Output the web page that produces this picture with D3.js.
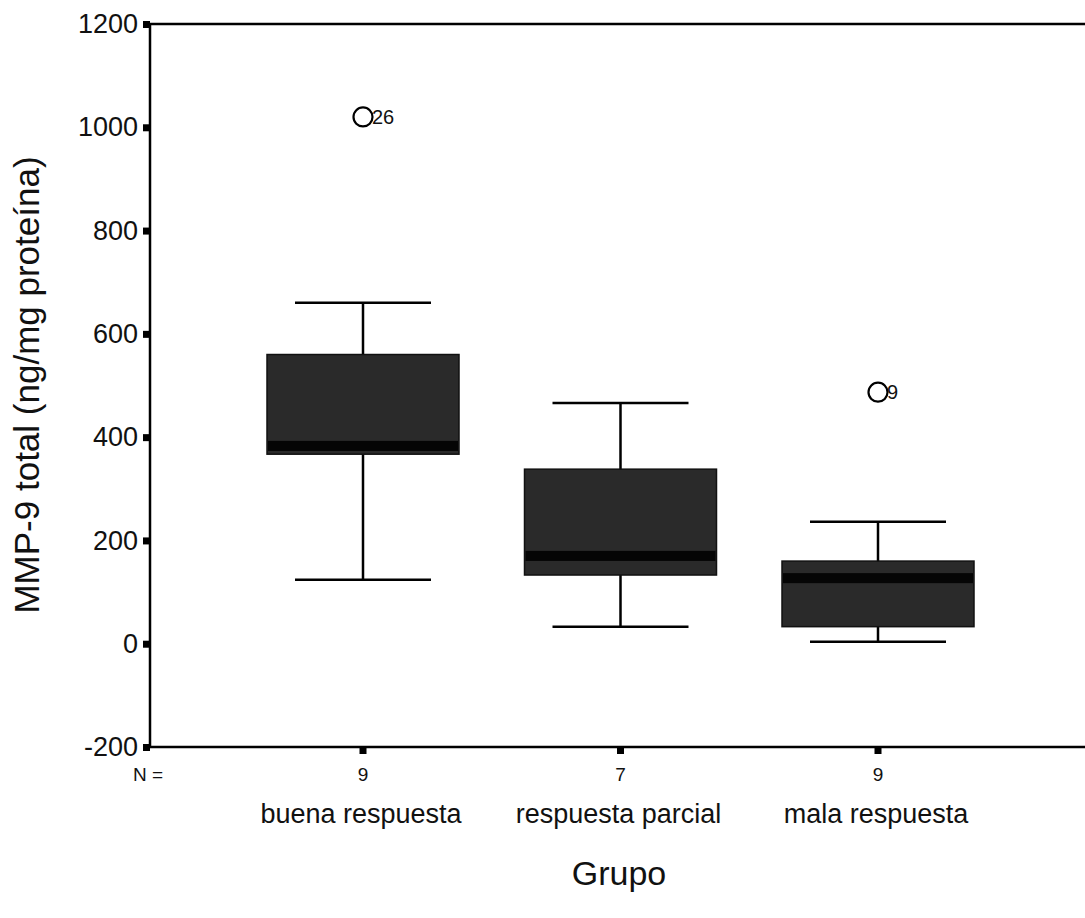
<!DOCTYPE html>
<html>
<head>
<meta charset="utf-8">
<script src="https://cdn.jsdelivr.net/npm/d3@7"></script>
<style>
  body { margin: 0; background: #fff; }
  svg text { font-family: "Liberation Sans", Arial, sans-serif; fill: #111; }
</style>
</head>
<body>
<div id="chart"></div>
<script>
// data
const groups = ["buena respuesta", "respuesta parcial", "mala respuesta"];
const counts = [9, 7, 9];
const lowWhisker = [124, 33, 4];
const q1 = [367, 133, 33];
const medians = [383, 170, 127];
const q3 = [560, 338, 160];
const highWhisker = [660, 466, 236];
const outlierGroup = ["buena respuesta", "mala respuesta"];
const outlierValue = [1020, 487];
const outlierCase = ["26", "9"];
const yTicks = [-200, 0, 200, 400, 600, 800, 1000, 1200];

const w = 1085, h = 918;
const plotLeft = 150, plotTop = 24, plotBottom = 747;

const svg = d3.select("#chart").append("svg")
    .attr("width", w)
    .attr("height", h);

const yScale = d3.scaleLinear()
    .domain([-200, 1200])
    .range([plotBottom, plotTop]);

const xScale = d3.scalePoint()
    .domain(groups)
    .range([363, 878]);

const boxW = 192, capW = 136;

// frame (right side runs off the picture)
svg.append("path")
    .attr("d", "M" + (w + 10) + "," + plotTop + "H" + plotLeft + "V" + plotBottom + "H" + (w + 10))
    .attr("fill", "none")
    .attr("stroke", "#000")
    .attr("stroke-width", 2.5);

// y axis: labels from d3, square tick marks
const yAxis = svg.append("g")
    .attr("transform", "translate(" + plotLeft + ",0)")
    .call(d3.axisLeft(yScale).tickValues(yTicks).tickSize(0).tickPadding(12).tickFormat(d => String(d)));
yAxis.select(".domain").remove();
yAxis.selectAll(".tick text")
    .attr("fill", "#111")
    .style("font-size", "27px")
    .style("font-family", "'Liberation Sans', Arial, sans-serif");
yAxis.selectAll(".tick").append("rect")
    .attr("x", -7).attr("y", -3.5)
    .attr("width", 7).attr("height", 7)
    .attr("fill", "#000");

// x axis square ticks
svg.selectAll(".xtick")
    .data(groups)
    .enter()
    .append("rect")
    .attr("class", "xtick")
    .attr("x", d => xScale(d) - 3.5)
    .attr("y", plotBottom)
    .attr("width", 7)
    .attr("height", 7)
    .attr("fill", "#000");

// N = counts
svg.append("text")
    .attr("x", 133).attr("y", 781)
    .style("font-size", "19px")
    .text("N =");
svg.selectAll(".count")
    .data(groups)
    .enter()
    .append("text")
    .attr("class", "count")
    .attr("x", d => xScale(d))
    .attr("y", 781)
    .attr("text-anchor", "middle")
    .style("font-size", "19px")
    .text((d, i) => counts[i]);

// category labels
svg.selectAll(".cat")
    .data(groups)
    .enter()
    .append("text")
    .attr("class", "cat")
    .attr("x", d => xScale(d) - 2)
    .attr("y", 823)
    .attr("text-anchor", "middle")
    .style("font-size", "27px")
    .text(d => d);

// axis titles
svg.append("text")
    .attr("x", 619).attr("y", 885)
    .attr("text-anchor", "middle")
    .style("font-size", "34px")
    .text("Grupo");
svg.append("text")
    .attr("transform", "translate(39,385) rotate(-90)")
    .attr("text-anchor", "middle")
    .style("font-size", "35px")
    .text("MMP-9 total (ng/mg proteína)");

// boxes
const box = svg.selectAll(".box")
    .data(groups)
    .enter()
    .append("g")
    .attr("class", "box");

// whisker stems
box.append("line")
    .attr("x1", d => xScale(d)).attr("x2", d => xScale(d))
    .attr("y1", (d, i) => yScale(lowWhisker[i]))
    .attr("y2", (d, i) => yScale(highWhisker[i]))
    .attr("stroke", "#000").attr("stroke-width", 2.5);

// whisker caps
box.append("line")
    .attr("x1", d => xScale(d) - capW / 2).attr("x2", d => xScale(d) + capW / 2)
    .attr("y1", (d, i) => yScale(highWhisker[i]))
    .attr("y2", (d, i) => yScale(highWhisker[i]))
    .attr("stroke", "#000").attr("stroke-width", 2.5);
box.append("line")
    .attr("x1", d => xScale(d) - capW / 2).attr("x2", d => xScale(d) + capW / 2)
    .attr("y1", (d, i) => yScale(lowWhisker[i]))
    .attr("y2", (d, i) => yScale(lowWhisker[i]))
    .attr("stroke", "#000").attr("stroke-width", 2.5);

// box body
box.append("rect")
    .attr("x", d => xScale(d) - boxW / 2)
    .attr("y", (d, i) => yScale(q3[i]))
    .attr("width", boxW)
    .attr("height", (d, i) => yScale(q1[i]) - yScale(q3[i]))
    .attr("fill", "#2a2a2a")
    .attr("stroke", "#111")
    .attr("stroke-width", 1.5);

// median as a thick dark band
box.append("rect")
    .attr("x", d => xScale(d) - boxW / 2 + 1)
    .attr("y", (d, i) => yScale(medians[i]) - 5)
    .attr("width", boxW - 2)
    .attr("height", 10)
    .attr("fill", "#050505");

// outliers
svg.selectAll(".outlier")
    .data(outlierGroup)
    .enter()
    .append("circle")
    .attr("class", "outlier")
    .attr("cx", d => xScale(d))
    .attr("cy", (d, i) => yScale(outlierValue[i]))
    .attr("r", 9.5)
    .attr("fill", "#fff")
    .attr("stroke", "#000")
    .attr("stroke-width", 2.2);
svg.selectAll(".olabel")
    .data(outlierGroup)
    .enter()
    .append("text")
    .attr("class", "olabel")
    .attr("x", d => xScale(d) + 9)
    .attr("y", (d, i) => yScale(outlierValue[i]) + 7)
    .style("font-size", "20px")
    .text((d, i) => outlierCase[i]);
</script>
</body>
</html>
